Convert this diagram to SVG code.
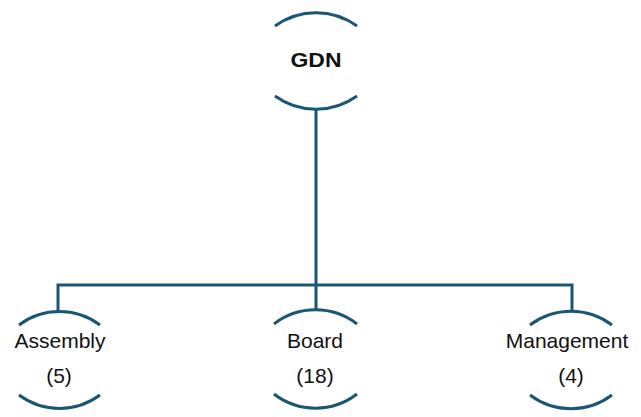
<svg xmlns="http://www.w3.org/2000/svg" width="641" height="417" viewBox="0 0 641 417">
<style>
.arc{fill:none;stroke:#1B5774;stroke-width:3}
.con{fill:none;stroke:#1B5774;stroke-width:3}
.t{font-family:"Liberation Sans",Arial,sans-serif;font-size:21px;fill:#111;text-anchor:middle}
.b{font-weight:bold;font-size:20px}
</style>
<rect width="641" height="417" fill="#fff"/>
<g id="connectors">
<path class="con" d="M316 110 V285 M58 311 V285 H572 V311 M316 285 V309"/>
</g>
<g id="gdn">
<path class="arc" d="M275 26 A70 70 0 0 1 357 26"/>
<path class="arc" d="M275 96 A70 70 0 0 0 357 96"/>
<text class="t b" x="316" y="67" textLength="51" lengthAdjust="spacingAndGlyphs">GDN</text>
</g>
<g id="assembly">
<path class="arc" d="M19 325 A68 68 0 0 1 100 325"/>
<path class="arc" d="M19 395 A68 68 0 0 0 100 395"/>
<text class="t" x="60" y="348">Assembly</text>
<text class="t" x="59" y="383">(5)</text>
</g>
<g id="board">
<path class="arc" d="M274 324 A68 68 0 0 1 357 324"/>
<path class="arc" d="M274 394 A68 68 0 0 0 357 394"/>
<text class="t" x="315" y="348">Board</text>
<text class="t" x="315" y="383">(18)</text>
</g>
<g id="management">
<path class="arc" d="M530 325 A68 68 0 0 1 612 325"/>
<path class="arc" d="M530 395 A68 68 0 0 0 612 395"/>
<text class="t" x="567" y="348">Management</text>
<text class="t" x="571" y="383">(4)</text>
</g>
</svg>
